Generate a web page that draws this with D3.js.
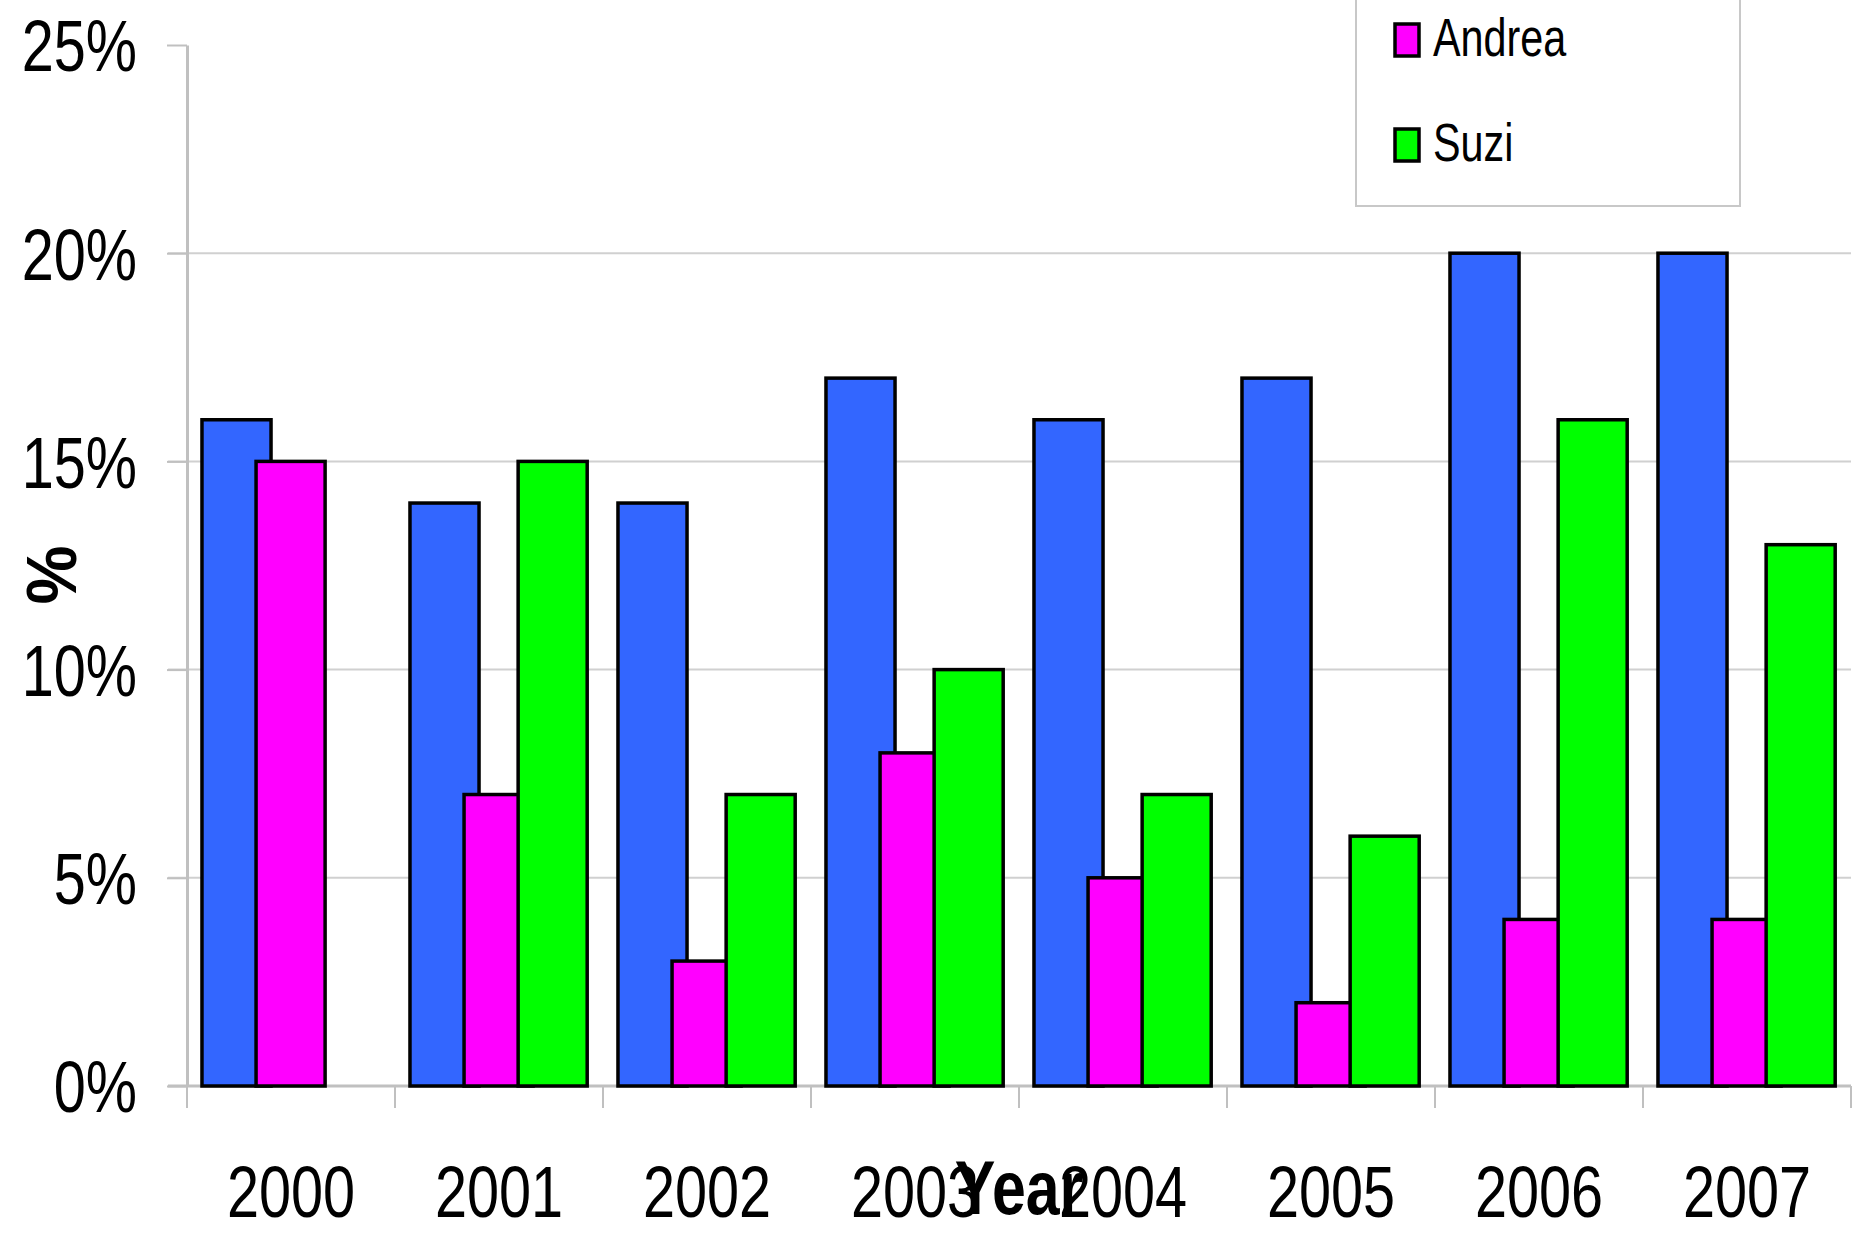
<!DOCTYPE html>
<html>
<head>
<meta charset="utf-8">
<script src="https://cdn.jsdelivr.net/npm/d3@7"></script>
<style>
  body { margin: 0; background: #fff; }
  text { font-family: "Liberation Sans", Arial, sans-serif; fill: #000; }
</style>
</head>
<body>
<svg class="chart"></svg>
<script>
const years = ['2000', '2001', '2002', '2003', '2004', '2005', '2006', '2007'];
const blueValues = [16, 14, 14, 17, 16, 17, 20, 20];
const andreaValues = [15, 7, 3, 8, 5, 2, 4, 4];
const suziValues = [null, 15, 7, 10, 7, 6, 16, 13];
const yTicks = [0, 5, 10, 15, 20, 25];
const legendNames = ['Andrea', 'Suzi'];

const series = [
    {values: blueValues, color: '#3366ff'},
    {values: andreaValues, color: '#ff00ff'},
    {values: suziValues, color: '#00ff00'}
];

const width = 1865, height = 1239;
const narrow = 0.8; // the picture's lettering is condensed
const svg = d3.select('.chart').attr('width', width).attr('height', height);

const x = d3.scaleBand().domain(years).range([187, 1851]);
const y = d3.scaleLinear().domain([0, 25]).range([1086, 45]);
const bw = x.bandwidth();
const pad = bw * 0.072, step = bw * 0.26, barW = bw * 0.332;

// gridlines (no line at the top)
svg.append('g')
    .selectAll('line')
    .data(yTicks.filter(d => d > 0 && d < 25))
    .enter().append('line')
    .attr('x1', 168).attr('x2', 1851)
    .attr('y1', d => y(d)).attr('y2', d => y(d))
    .attr('stroke', '#d0d0d0').attr('stroke-width', 2);

// y axis
const yAxis = svg.append('g')
    .attr('transform', 'translate(187,0)')
    .call(d3.axisLeft(y).tickValues(yTicks).tickFormat(d => d + '%').tickSize(20).tickSizeOuter(0));
yAxis.select('.domain').attr('stroke', '#c0c0c0').attr('stroke-width', 3);
yAxis.selectAll('.tick line').attr('stroke', '#c0c0c0').attr('stroke-width', 2);
yAxis.selectAll('text')
    .style('font-size', '72px')
    .attr('x', 0).attr('dy', '0.36em')
    .attr('transform', 'translate(-50,0) scale(' + narrow + ',1)');

// x axis baseline and boundary ticks
svg.append('line')
    .attr('x1', 168).attr('x2', 1851)
    .attr('y1', y(0)).attr('y2', y(0))
    .attr('stroke', '#c0c0c0').attr('stroke-width', 3);
svg.append('g')
    .selectAll('line')
    .data(years.map(d => x(d)).concat([x.range()[1]]))
    .enter().append('line')
    .attr('x1', d => d).attr('x2', d => d)
    .attr('y1', y(0)).attr('y2', y(0) + 22)
    .attr('stroke', '#c0c0c0').attr('stroke-width', 2);

const xAxis = svg.append('g')
    .attr('transform', 'translate(0,' + y(0) + ')')
    .call(d3.axisBottom(x).tickSize(0).tickSizeOuter(0));
xAxis.select('.domain').remove();
xAxis.selectAll('text')
    .style('font-size', '72px')
    .attr('y', 0).attr('dy', 0)
    .attr('transform', 'translate(0,131) scale(' + narrow + ',1)');

// bars
series.forEach((s, i) => {
    svg.append('g')
        .selectAll('rect')
        .data(years.map((yr, j) => ({year: yr, v: s.values[j]})).filter(d => d.v != null))
        .enter().append('rect')
        .attr('x', d => x(d.year) + pad + i * step)
        .attr('width', barW)
        .attr('y', d => y(d.v))
        .attr('height', d => y(0) - y(d.v))
        .attr('fill', s.color)
        .attr('stroke', '#000')
        .attr('stroke-width', 3.5);
});

// axis titles
svg.append('text')
    .attr('transform', 'translate(76,575) rotate(-90) scale(0.95,1)')
    .attr('text-anchor', 'middle')
    .style('font-size', '70px').style('font-weight', 'bold')
    .text('%');

svg.append('text')
    .attr('transform', 'translate(1019,1214) scale(' + narrow + ',1)')
    .attr('text-anchor', 'middle')
    .style('font-size', '76px').style('font-weight', 'bold')
    .text('Year');

// legend (first entry is cut off at the top of the picture)
const legend = svg.append('g');
legend.append('rect')
    .attr('x', 1356).attr('y', -120)
    .attr('width', 384).attr('height', 326)
    .attr('fill', 'none').attr('stroke', '#c8c8c8').attr('stroke-width', 2);

const items = legend.selectAll('g.item')
    .data(legendNames)
    .enter().append('g')
    .attr('class', 'item')
    .attr('transform', (d, i) => 'translate(1395,' + (24 + i * 105) + ')');
items.append('rect')
    .attr('width', 24).attr('height', 32)
    .attr('fill', (d, i) => series[i + 1].color)
    .attr('stroke', '#000').attr('stroke-width', 3.5);
items.append('text')
    .attr('transform', 'translate(38,32) scale(0.78,1)')
    .style('font-size', '53px')
    .text(d => d);
</script>
</body>
</html>
